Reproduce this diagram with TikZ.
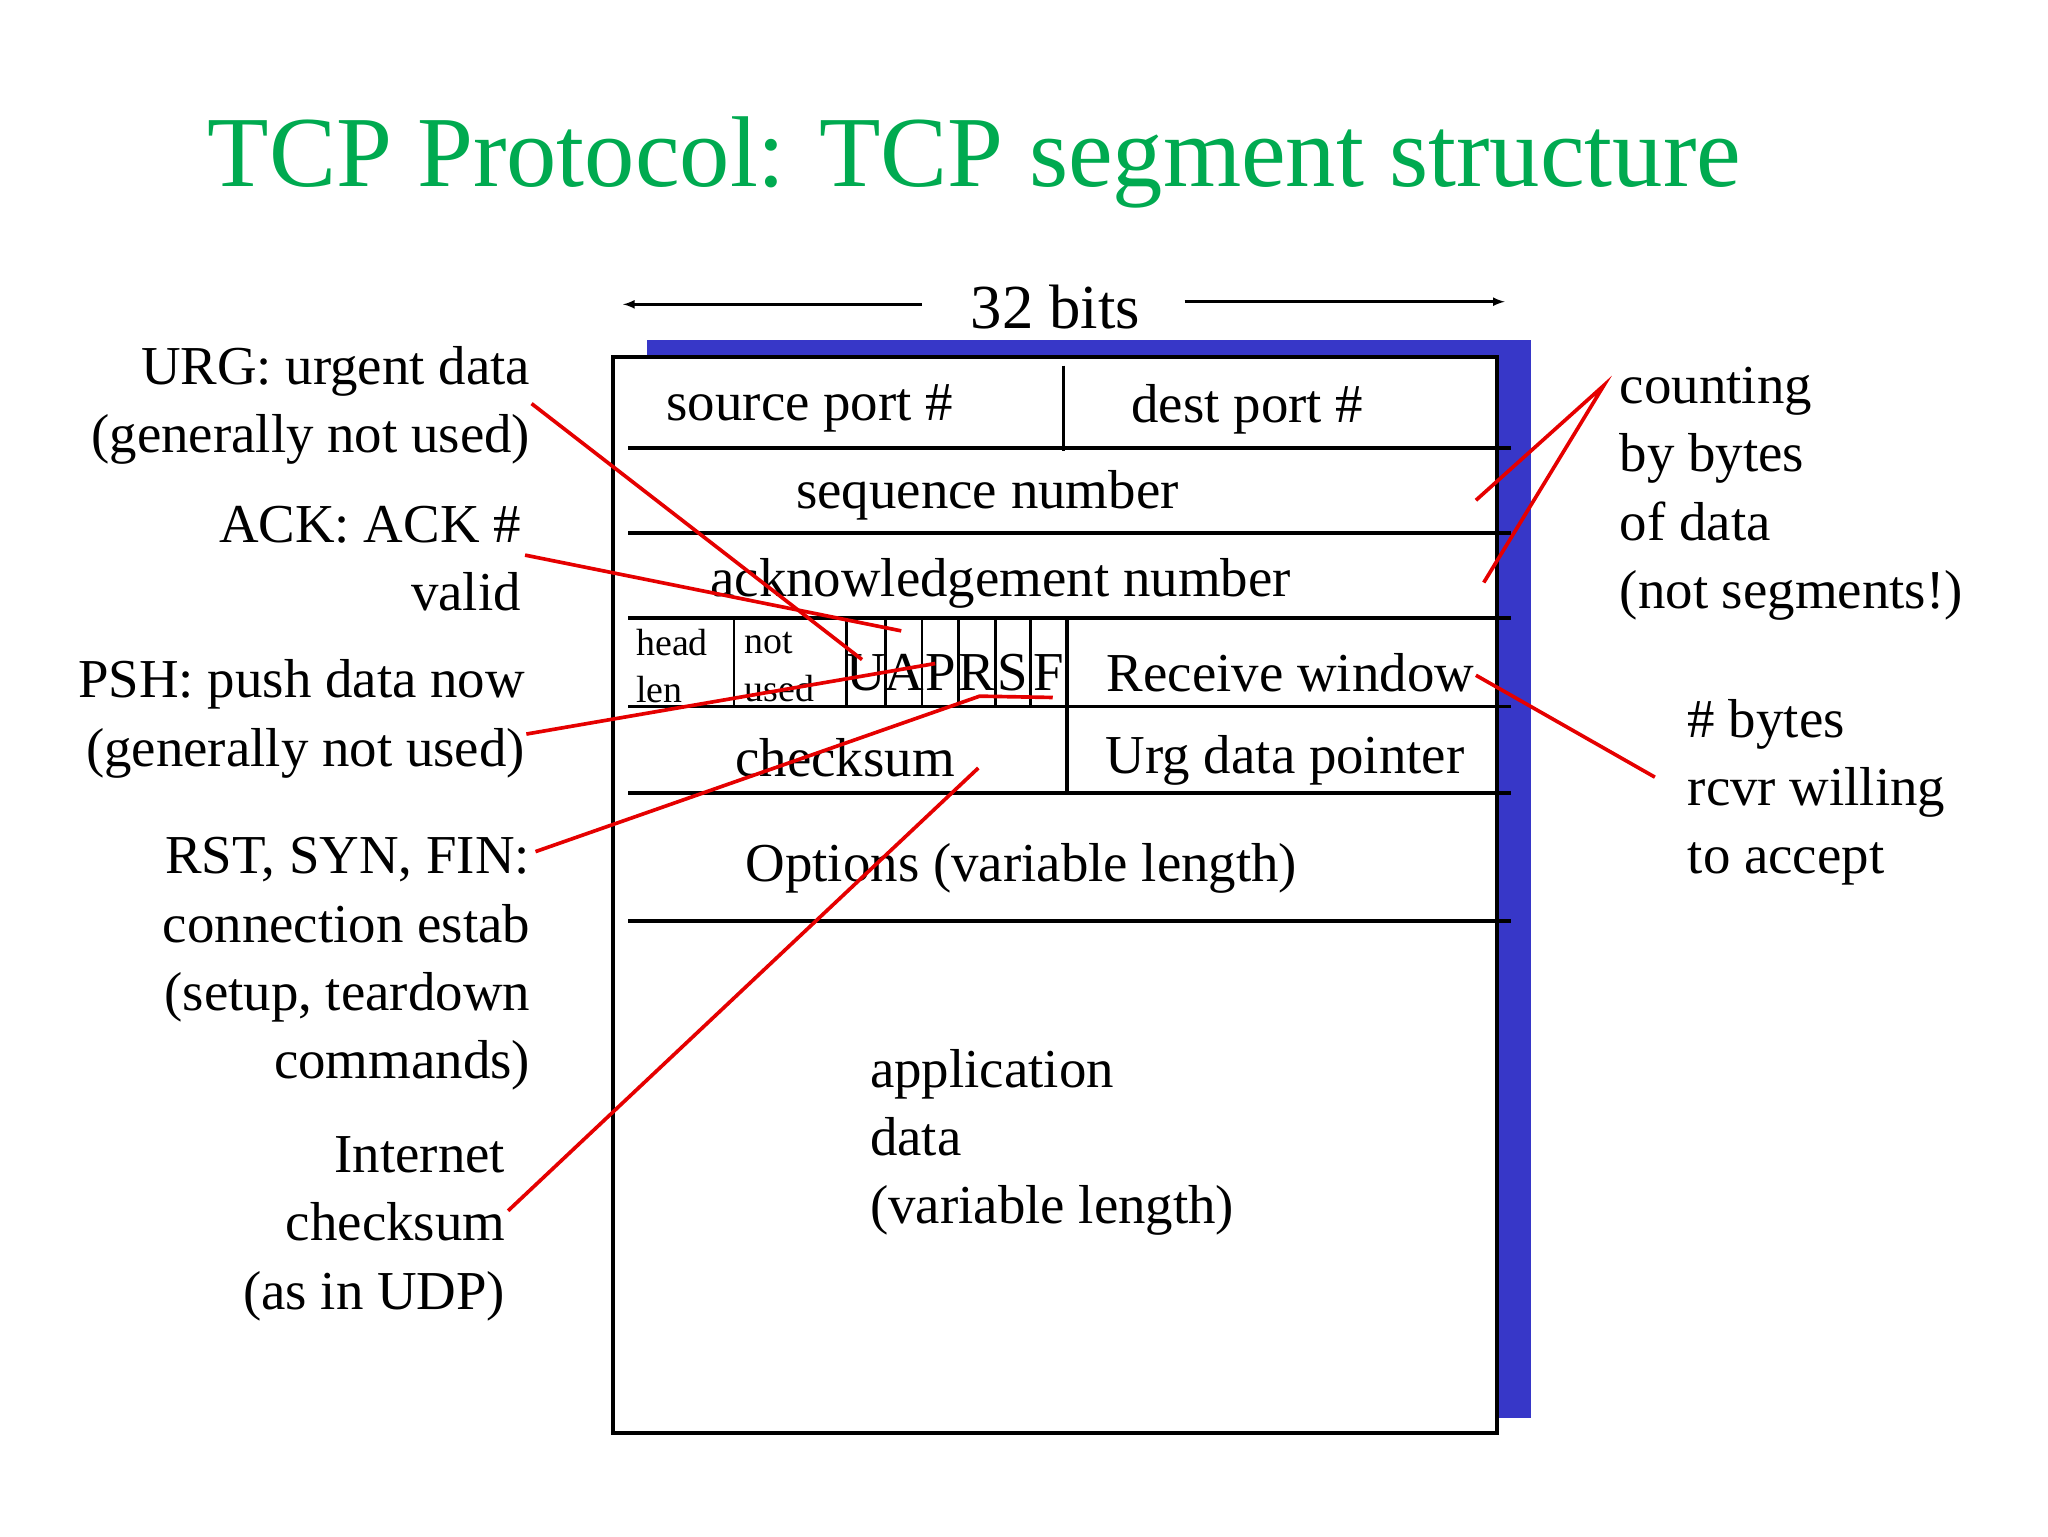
\documentclass[tikz,border=0pt]{standalone}
\usepackage{fontspec}
\setmainfont{Liberation Serif}
\begin{document}
\begin{tikzpicture}[x=1pt,y=-1pt,
  lbl/.style={font=\fontsize{42}{52}\selectfont,inner sep=0pt},
  sm/.style={font=\fontsize{29}{36}\selectfont,inner sep=0pt,anchor=west},
  fl/.style={font=\fontsize{42}{52}\selectfont,inner sep=0pt},
  rl/.style={font=\fontsize{42}{52.3}\selectfont,inner sep=0pt,align=right},
  ll/.style={font=\fontsize{42}{52.3}\selectfont,inner sep=0pt,align=left},
  rowline/.style={line width=2.6pt},
  redl/.style={draw=red!90!black,line width=2.8pt}]
\useasboundingbox (0,0) rectangle (1568,1176);
\definecolor{ttl}{RGB}{0,170,80}
\definecolor{shad}{RGB}{55,55,200}
\node[font=\fontsize{77}{90}\selectfont,text=ttl] (title) at (746,124) {TCP Protocol: TCP segment structure};
% 32 bits
\node[font=\fontsize{48}{56}\selectfont] (bits) at (808,235) {32 bits};
\coordinate (la) at (477,233); \coordinate (ra) at (1152,231);
\draw[-latex,line width=2pt] (706,233) -- (la);
\draw[-latex,line width=2pt] (907,231) -- (ra);
% box
\fill[shad] (495,260) rectangle (1172,1086);
\draw[fill=white,line width=3pt] (469,273) rectangle (1146,1097);
\foreach \y in {343,408,473,541,607,705} \draw[rowline] (481,\y) -- (1157,\y);
\draw[rowline] (814,280) -- (814,345);
\foreach \x in {562,648,678,706,734,762,789} \draw[line width=2pt] (\x,473) -- (\x,541);
\draw[rowline] (817,473) -- (817,607);
% texts
\node[lbl] (sp) at (620,313) {source port \#};
\node[lbl] (dp) at (955,313) {dest port \#};
\node[lbl] (seq) at (756,379) {sequence number};
\node[lbl] (ack) at (766,447) {acknowledgement number};
\node[sm] (h1) at (487,492) {head};
\node[sm] (h2) at (487,528) {len};
\node[sm] (n1) at (570,492) {not};
\node[sm] (n2) at (570,527) {used};
\node[fl] (fU) at (663,515) {U};
\node[fl] (fA) at (692,515) {A};
\node[fl] (fP) at (720,515) {P};
\node[fl] (fR) at (748,515) {R};
\node[fl] (fS) at (775,515) {S};
\node[fl] (fF) at (803,515) {F};
\node[lbl] (rw) at (988,515) {Receive window};
\node[lbl] (cs) at (647,580) {checksum};
\node[lbl] (urg) at (984,582) {Urg data pointer};
\node[lbl] (opt) at (782,665) {Options (variable length)};
\node[ll,anchor=north west] (app) at (666,803) {application\\data\\(variable length)};
% left labels
\node[rl,anchor=north east] (lURG) at (406,265) {URG: urgent data\\(generally not used)};
\node[rl,anchor=north east] (lACK) at (399,387) {ACK: ACK \#\\valid};
\node[rl,anchor=north east] (lPSH) at (402,505) {PSH: push data now\\(generally not used)};
\node[rl,anchor=north east] (lRST) at (406,641) {RST, SYN, FIN:\\connection estab\\(setup, teardown\\commands)};
\node[rl,anchor=north east] (lINT) at (387,870) {Internet\\checksum\\(as in UDP)};
% right labels
\node[ll,anchor=north west] (rCNT) at (1240,281) {counting\\by bytes\\of data\\(not segments!)};
\node[ll,anchor=north west] (rRW) at (1292,535) {\# bytes\\rcvr willing\\to accept};
% red connectors
\coordinate (u0) at (407,309); \coordinate (u1) at (660,505);
\coordinate (a0) at (402,425); \coordinate (a1) at (690,483);
\coordinate (p0) at (403,562); \coordinate (p1) at (716,508);
\coordinate (r0) at (410,652); \coordinate (r1) at (750,533); \coordinate (r2) at (806,534);
\coordinate (i0) at (389,927); \coordinate (i1) at (749,588);
\coordinate (c0) at (1228,295); \coordinate (c1) at (1130,383); \coordinate (c2) at (1136,446);
\coordinate (w0) at (1267,595); \coordinate (w1) at (1130,517);
\draw[redl] (u0) -- (u1);
\draw[redl] (a0) -- (a1);
\draw[redl] (p0) -- (p1);
\draw[redl] (r0) -- (r1) -- (r2);
\draw[redl] (i0) -- (i1);
\draw[redl] (c1) -- (c0) -- (c2);
\draw[redl] (w0) -- (w1);
\end{tikzpicture}
\end{document}
